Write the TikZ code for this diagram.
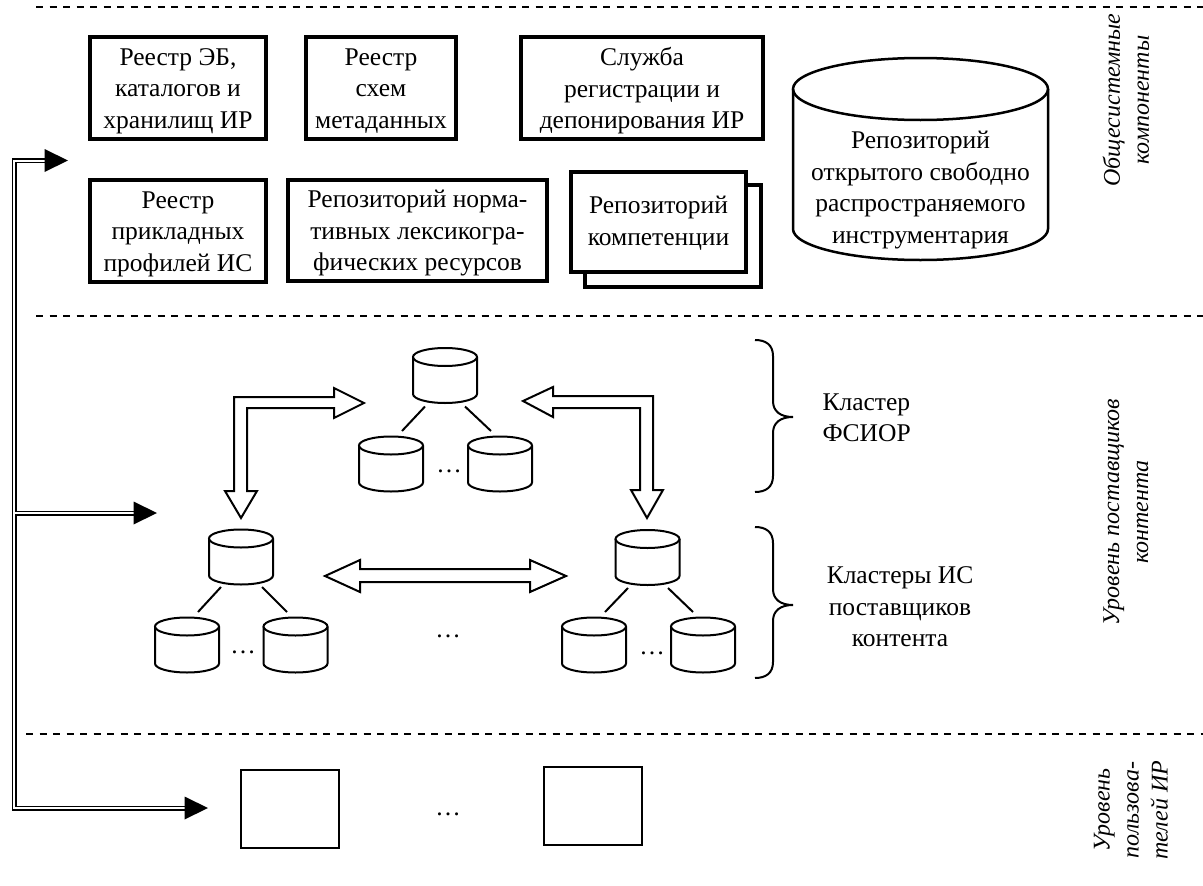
\documentclass[tikz,border=0pt]{standalone}
\usepackage{fontspec}
\setmainfont{Liberation Serif}
\usetikzlibrary{calc}

% database cylinder: name, cx, cy, x radius, half distance between caps, y radius
\newcommand\dbcyl[6]{%
  \node[inner sep=0pt, minimum width={2*#4}, minimum height={2*(#5+#6)}] (#1) at (#2,#3) {};
  \draw ($(#1.center)+(-#4,-#5)$) -- ($(#1.center)+(-#4,#5)$)
     .. controls +(0,0.5523*#6) and +(-0.5523*#4,0) .. ($(#1.center)+(0,#5+#6)$)
     .. controls +(0.5523*#4,0) and +(0,0.5523*#6) .. ($(#1.center)+(#4,#5)$)
     -- ($(#1.center)+(#4,-#5)$);
  \draw ($(#1.center)+(0,-#5)$) ellipse [x radius=#4, y radius=#6];
}

\tikzset{
  box/.style={draw, line width=3.8pt, fill=white, inner sep=0pt},
  boxtext/.style={align=center, inner sep=0pt},
  userbox/.style={draw, line width=2pt, inner sep=0pt, minimum width=98, minimum height=78},
  layer/.style={line width=2pt, dash pattern=on 7pt off 6.5pt},
  bus/.style={draw, double=white, line width=1.5pt, double distance=2pt, line join=miter},
  block/.style={draw, line width=2pt, fill=white, line join=miter},
  cyl/.style={line width=2pt},
  link/.style={line width=2pt},
  brace/.style={line width=2pt},
  side/.style={rotate=90, align=center, font=\fontsize{24}{29}\selectfont\itshape},
  dots/.style={anchor=base, inner sep=0pt}
}

\begin{document}
\begin{tikzpicture}[x=1pt, y=-1pt, font=\fontsize{25.5}{31.5}\selectfont]
\useasboundingbox (0,0) rectangle (1203,886);

% layer separators
\draw[layer] (36,7) -- (1203,7);
\draw[layer] (36,316) -- (1203,316);
\draw[layer] (26,734) -- (1203,734);

% system-wide components
\node[box, minimum width=176, minimum height=102] (reg1) at (178,88) {};
\node[box, minimum width=150, minimum height=102] (reg2) at (381,88) {};
\node[box, minimum width=242, minimum height=102] (srv) at (642,88) {};
\node[box, minimum width=176, minimum height=102] (reg3) at (178,231) {};
\node[box, minimum width=259, minimum height=101] (rep1) at (417.5,230.5) {};
\node[box, minimum width=176, minimum height=102] (rep2b) at (673,236) {};
\node[box, minimum width=175, minimum height=100] (rep2) at (658.5,222) {};
\node[boxtext] at ($(reg1.center)+(0,3)$) {Реестр ЭБ,\\каталогов и\\хранилищ ИР};
\node[boxtext] at ($(reg2.center)+(0,3)$) {Реестр\\схем\\метаданных};
\node[boxtext] at ($(srv.center)+(0,3)$) {Служба\\регистрации и\\депонирования ИР};
\node[boxtext] at ($(reg3.center)+(0,3)$) {Реестр\\прикладных\\профилей ИС};
\node[boxtext] at ($(rep1.center)+(0,3)$) {Репозиторий норма-\\тивных лексикогра-\\фических ресурсов};
\node[boxtext] at ($(rep2.center)+(0,1)$) {Репозиторий\\компетенции};

\begin{scope}[line width=2.5pt]
\dbcyl{oss}{920.5}{159}{127.5}{70}{31}
\end{scope}
\node[boxtext] at ($(oss.center)+(0,31)$) {Репозиторий\\открытого свободно\\распространяемого\\инструментария};

% content providers: federal cluster and provider clusters
\begin{scope}[cyl]
\dbcyl{f0}{445}{375.5}{32}{18.5}{9}
\dbcyl{f1}{391}{464}{32}{18.5}{9}
\dbcyl{f2}{500}{464}{32}{18.5}{9}
\dbcyl{a0}{241}{557}{32}{18.5}{9}
\dbcyl{a1}{187}{645}{32}{18.5}{9}
\dbcyl{a2}{295.5}{645}{32}{18.5}{9}
\dbcyl{b0}{647.5}{557.5}{32}{18.5}{9}
\dbcyl{b1}{594}{645}{32}{18.5}{9}
\dbcyl{b2}{703}{645}{32}{18.5}{9}
\end{scope}

\draw[link] ($(f0.center)+(-20,31)$) -- ($(f1.center)+(11,-33)$);
\draw[link] ($(f0.center)+(20,31)$) -- ($(f2.center)+(-9,-33)$);
\draw[link] ($(a0.center)+(-20,30)$) -- ($(a1.center)+(11,-33)$);
\draw[link] ($(a0.center)+(21,30)$) -- ($(a2.center)+(-8.5,-33)$);
\draw[link] ($(b0.center)+(-19.5,30.5)$) -- ($(b1.center)+(11,-33)$);
\draw[link] ($(b0.center)+(20.5,30.5)$) -- ($(b2.center)+(-10,-33)$);

\node[dots] at (449,472) {…};
\node[dots] at (243,653) {…};
\node[dots] at (652,654) {…};
\node[dots] at (448,637) {…};

% exchange between clusters
\draw[block] (241,518) -- (257,491) -- (247,491) -- (247,408) -- (334,408) -- (334,418)
  -- (364,403) -- (334,388) -- (334,397) -- (234,397) -- (234,491) -- (225,491) -- cycle;
\draw[block] (523,401) -- (553,387) -- (553,396) -- (653,396) -- (653,490) -- (663,490)
  -- (647,518) -- (631,490) -- (640,490) -- (640,408) -- (553,408) -- (553,417) -- cycle;
\draw[block] (325,576) -- (360,560) -- (360,569) -- (530,569) -- (530,560) -- (566,576)
  -- (530,592) -- (530,582) -- (360,582) -- (360,592) -- cycle;

% cluster braces
\draw[brace] (755,340) .. controls (766,340) and (773,345) .. (773,356) -- (773,401)
  .. controls (773,411) and (780,417) .. (793,417) .. controls (780,417) and (773,423) .. (773,433)
  -- (773,476) .. controls (773,487) and (766,492) .. (755,492);
\draw[brace] (755,527) .. controls (766,527) and (773,532) .. (773,543) -- (773,589)
  .. controls (773,599) and (780,605) .. (793,605) .. controls (780,605) and (773,611) .. (773,621)
  -- (773,662) .. controls (773,673) and (766,678) .. (755,678);
\node[align=left, anchor=west] at (819,418) {Кластер\\ФСИОР};
\node[align=center] at (900,607) {Кластеры ИС\\поставщиков\\контента};

% users
\node[userbox] (u1) at (290,809) {};
\node[userbox] (u2) at (593,805.5) {};
\node[dots] at (448,815) {…};

% access bus
\coordinate (busTop) at (14,160.5);
\coordinate (busBot) at (14,808);
\coordinate (busMid) at (15,513);
\coordinate (hTop) at (45,160.5);
\coordinate (tTop) at (68,160.5);
\coordinate (hMid) at (134,513);
\coordinate (tMid) at (157,513);
\coordinate (hBot) at (185,808);
\coordinate (tBot) at (208,808);
\draw[bus] (hTop) -- (busTop) -- (busBot) -- (hBot);
\draw[bus] (busMid) -- (hMid);
\fill ($(hTop)+(-0.5,-11.5)$) -- (tTop) -- ($(hTop)+(-0.5,11.5)$) -- cycle;
\fill ($(hMid)+(-0.5,-11.5)$) -- (tMid) -- ($(hMid)+(-0.5,11.5)$) -- cycle;
\fill ($(hBot)+(-0.5,-11.5)$) -- (tBot) -- ($(hBot)+(-0.5,11.5)$) -- cycle;

% layer captions
\node[side] at (1126,100) {Общесистемные\\компоненты};
\node[side] at (1126,512) {Уровень поставщиков\\контента};
\node[side] at (1131,810) {Уровень\\пользова-\\телей ИР};
\end{tikzpicture}
\end{document}
